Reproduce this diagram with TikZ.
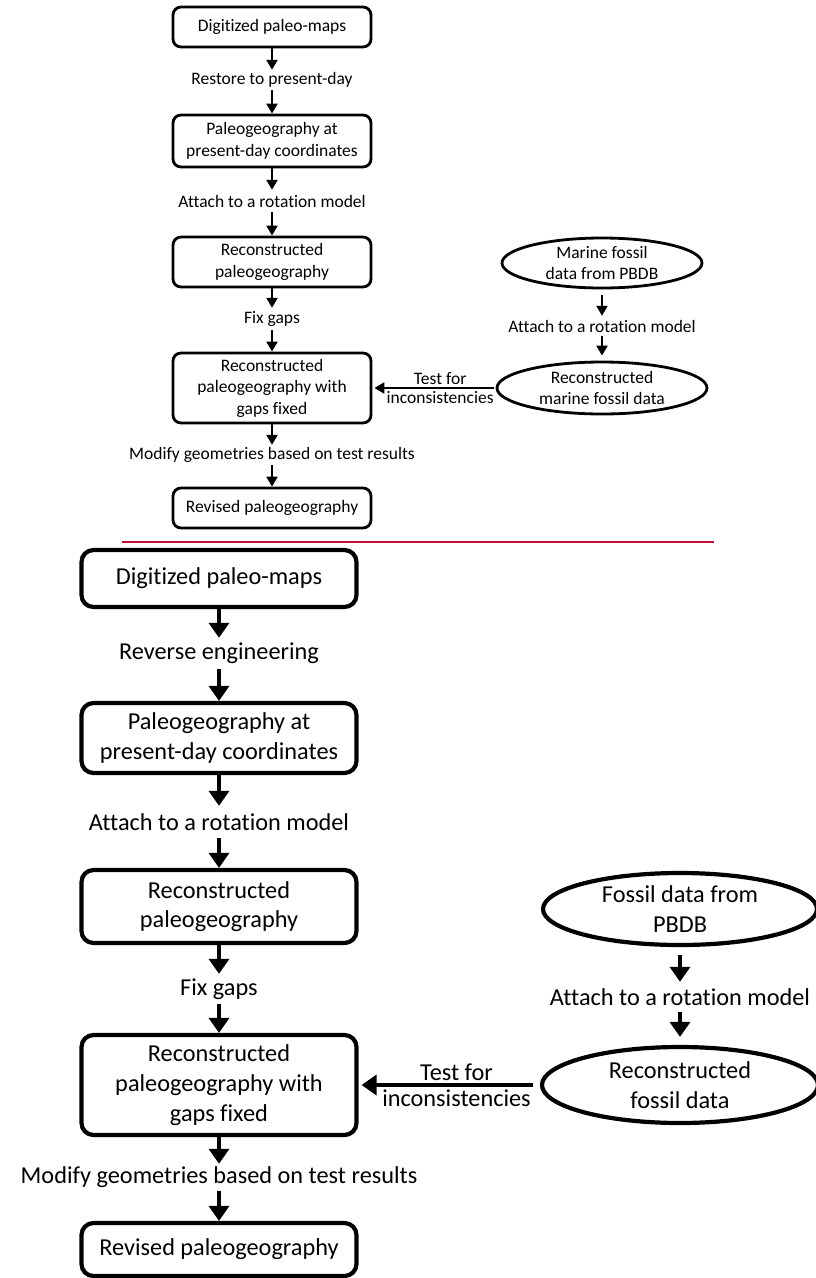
\documentclass[tikz,border=0pt]{standalone}
\usepackage{fontspec}
\setmainfont{Carlito}[Ligatures=NoCommon]
\usetikzlibrary{shapes.geometric,arrows.meta}
\definecolor{sepred}{RGB}{190,16,56}
\newcommand\ftop{\fontsize{17.5}{21.5}\selectfont}
\newcommand\fbot{\fontsize{24.3}{29.7}\selectfont}
\begin{document}
\begin{tikzpicture}[x=1pt,y=-1pt,
  topbox/.style={draw, line width=2.8pt, rounded corners=8pt, minimum width=198pt, align=center, inner sep=0pt, font=\ftop},
  botbox/.style={draw, line width=4.2pt, rounded corners=12pt, minimum width=275pt, align=center, inner sep=0pt, font=\fbot},
  topell/.style={draw, ellipse, line width=2.8pt, inner sep=0pt},
  botell/.style={draw, ellipse, line width=4.2pt, inner sep=0pt},
  toplab/.style={inner sep=0pt, align=center, font=\ftop},
  botlab/.style={inner sep=0pt, align=center, font=\fbot},
  toparr/.style={-{Triangle[width=11pt,length=10pt]}, line width=2.2pt},
  botarr/.style={-{Triangle[width=20pt,length=15pt]}, line width=3.5pt}
]
\useasboundingbox (0,0) rectangle (816,1278);

% ---------------- top diagram ----------------
\node[topbox, minimum height=40pt] (b1) at (272,27) {Digitized paleo-maps};
\node[toplab, minimum height=20pt] (l1) at (272,80) {Restore to present-day};
\node[topbox, minimum height=52pt] (b2) at (272,141) {Paleogeography at\\present-day coordinates};
\node[toplab, minimum height=22pt] (l2) at (272,201) {Attach to a rotation model};
\node[topbox, minimum height=50pt] (b3) at (272,262) {Reconstructed\\paleogeography};
\node[toplab, minimum height=22pt] (l3) at (272,319) {Fix gaps};
\node[topbox, minimum height=70pt] (b4) at (272,388) {Reconstructed\\paleogeography with\\gaps fixed};
\node[toplab, minimum height=20pt] (l4) at (272,455) {Modify geometries based on test results};
\node[topbox, minimum height=40pt] (b5) at (272,508) {Revised paleogeography};

\node[topell, minimum width=200pt, minimum height=50pt] (e1) at (602,263) {};
\node[toplab] (e1t) at (e1.center) {Marine fossil\\data from PBDB};
\node[toplab, minimum height=20pt] (l5) at (602,326) {Attach to a rotation model};
\node[topell, minimum width=210pt, minimum height=52pt] (e2) at (602,388) {};
\node[toplab] (e2t) at (e2.center) {Reconstructed\\marine fossil data};

\draw[toparr] (b1) -- (l1);
\draw[toparr] (l1) -- (b2);
\draw[toparr] (b2) -- (l2);
\draw[toparr] (l2) -- (b3);
\draw[toparr] (b3) -- (l3);
\draw[toparr] (l3) -- (b4);
\draw[toparr] (b4) -- (l4);
\draw[toparr] (l4) -- (b5);
\draw[toparr, shorten <=6pt] (e1) -- (l5);
\draw[toparr, shorten >=5pt] (l5) -- (e2);
\draw[toparr, shorten <=2pt, shorten >=2pt] (e2.west) -- (e2.west -| b4.east)
  node[toplab, pos=0.45, above=2pt] (t1) {Test for}
  node[toplab, pos=0.45, below=2pt] (t2) {inconsistencies};

% ---------------- separator ----------------
\coordinate (sepL) at (122,542);
\coordinate (sepR) at (714,542);
\draw[sepred, line width=2pt] (sepL) -- (sepR);

% ---------------- bottom diagram ----------------
\node[botbox, minimum height=57pt] (B1) at (219,578.5) {Digitized paleo-maps};
\node[botlab, minimum height=31pt] (L1) at (219,653.5) {Reverse engineering};
\node[botbox, minimum height=70pt] (B2) at (219,738) {Paleogeography at\\present-day coordinates};
\node[botlab, minimum height=32pt] (L2) at (219,822) {Attach to a rotation model};
\node[botbox, minimum height=73pt] (B3) at (219,906.5) {Reconstructed\\paleogeography};
\node[botlab, minimum height=30pt] (L3) at (219,989) {Fix gaps};
\node[botbox, minimum height=100pt] (B4) at (219,1085) {Reconstructed\\paleogeography with\\gaps fixed};
\node[botlab, minimum height=27pt] (L4) at (219,1177.5) {Modify geometries based on test results};
\node[botbox, minimum height=53pt] (B5) at (219,1249.5) {Revised paleogeography};

\node[botell, minimum width=274pt, minimum height=72pt] (E1) at (680,909) {};
\node[botlab] (E1t) at (E1.center) {Fossil data from\\PBDB};
\node[botlab, minimum height=30pt] (L5) at (680,997) {Attach to a rotation model};
\node[botell, minimum width=276pt, minimum height=76pt] (E2) at (680,1085) {};
\node[botlab] (E2t) at (E2.center) {Reconstructed\\fossil data};

\draw[botarr] (B1) -- (L1);
\draw[botarr] (L1) -- (B2);
\draw[botarr] (B2) -- (L2);
\draw[botarr] (L2) -- (B3);
\draw[botarr] (B3) -- (L3);
\draw[botarr] (L3) -- (B4);
\draw[botarr] (B4) -- (L4);
\draw[botarr] (L4) -- (B5);
\draw[botarr, shorten <=8pt] (E1) -- (L5);
\draw[botarr, shorten >=8pt] (L5) -- (E2);
\draw[botarr, shorten <=7pt, shorten >=3pt] (E2.west) -- (E2.west -| B4.east)
  node[botlab, pos=0.46, above=3pt] (T1) {Test for}
  node[botlab, pos=0.46, below=3pt] (T2) {inconsistencies};
\end{tikzpicture}
\end{document}
